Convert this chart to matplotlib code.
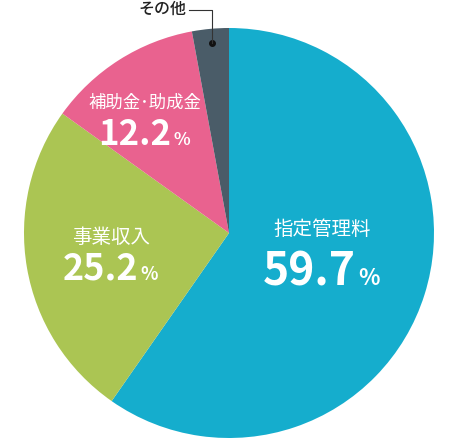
import numpy as np
import matplotlib.pyplot as plt

plt.rcParams['font.family'] = ['Noto Sans CJK JP', 'DejaVu Sans']

# データ
labels = ['指定管理料', '事業収入', '補助金･助成金', 'その他']
shares = [59.7, 25.2, 12.2, 2.9]
colors = ['#15adcd', '#abc553', '#e9628f', '#4a5c68']

fig = plt.figure(figsize=(4.58, 4.38), dpi=100)
ax = fig.add_axes([24 / 458, 0.0, 410 / 458, 410 / 438])
wedges, _ = ax.pie(shares, colors=colors, startangle=90, counterclock=False,
                   radius=1.0, wedgeprops=dict(linewidth=0))
ax.set_xlim(-1, 1)
ax.set_ylim(-1, 1)
ax.set_aspect('equal')
ax.axis('off')

# ラベル (名前, 数値の右端, 位置)
name_pos = [(0.456, 0.017), (-0.576, -0.02), (-0.412, 0.637)]
num_pos = [(0.62, -0.254), (-0.444, -0.229), (-0.283, 0.429)]
num_size = [32, 26, 25]
name_size = [14, 14, 12.5]
for i in range(3):
    nx, ny = name_pos[i]
    ax.text(nx, ny, labels[i], color='white', fontsize=name_size[i],
            ha='center', va='center')
    px, py = num_pos[i]
    ax.text(px, py, f'{shares[i]:.1f}', color='white', fontsize=num_size[i],
            fontweight='bold', ha='right', va='baseline')
    ax.text(px + 0.01, py, '%', color='white', fontsize=num_size[i] * 0.5,
            fontweight='bold', ha='left', va='baseline')

# その他 の引き出し線
w = wedges[3]
mid = np.radians((w.theta1 + w.theta2) / 2)
dx, dy = 0.93 * np.cos(mid), 0.93 * np.sin(mid)
ax.plot([dx], [dy], 'o', color='#111111', markersize=4, clip_on=False)
ax.plot([dx, dx, dx - 0.11], [dy, 1.09, 1.09], color='#333333',
        linewidth=0.8, clip_on=False)
ax.text(dx - 0.125, 1.09, labels[3], color='#222222', fontsize=11.5,
        fontweight='medium', ha='right', va='center', clip_on=False)

fig.savefig('out.png', dpi=100)
